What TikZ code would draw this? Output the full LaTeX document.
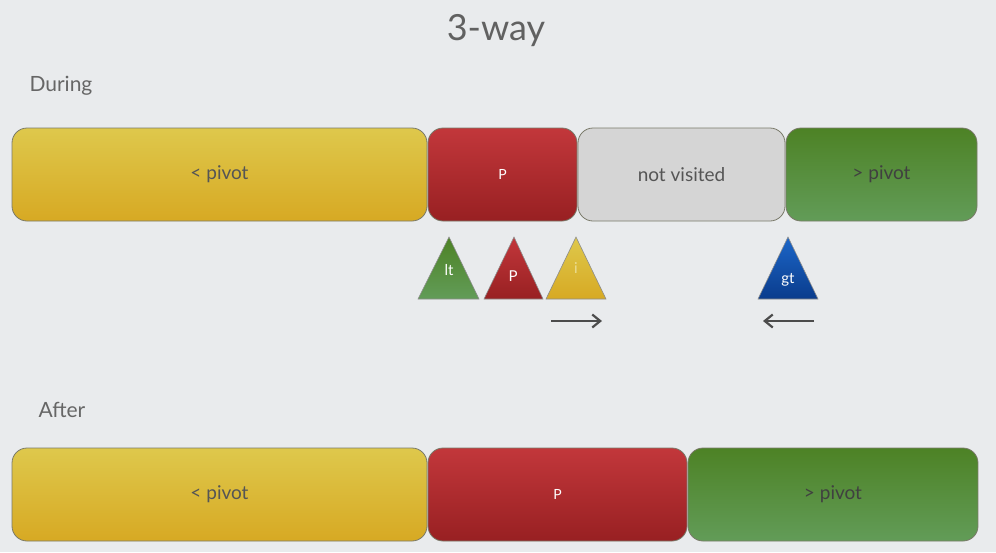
\documentclass[tikz,border=0pt]{standalone}
\usepackage{fontspec}
\setmainfont{Lato}
\usetikzlibrary{arrows.meta,shapes.geometric}
\definecolor{bg}{HTML}{E9EBED}
\definecolor{ytop}{HTML}{DEC84C}
\definecolor{ybot}{HTML}{D7A923}
\definecolor{rtop}{HTML}{C2373B}
\definecolor{rbot}{HTML}{982022}
\definecolor{gtop}{HTML}{4D8225}
\definecolor{gbot}{HTML}{629C58}
\definecolor{grey}{HTML}{D5D5D5}
\definecolor{btop}{HTML}{1C66C8}
\definecolor{bbot}{HTML}{0A3C8C}
\definecolor{edge}{HTML}{7A7A6A}
\definecolor{txt}{HTML}{555555}
\tikzset{
  bar/.style={rounded corners=15pt, draw=edge, line width=0.8pt, inner sep=0pt,
    minimum height=93pt, font=\fontsize{19}{19}\selectfont, text=txt},
  ybar/.style={bar, top color=ytop, bottom color=ybot},
  rbar/.style={bar, top color=rtop, bottom color=rbot, text=white, font=\fontsize{14}{14}\selectfont},
  gbar/.style={bar, top color=gtop, bottom color=gbot, text=txt!75!black},
  nbar/.style={bar, fill=grey},
  tri/.style={draw=black!45, line width=0.6pt},
  trilabel/.style={font=\fontsize{15}{15}\selectfont, text=white},
  mover/.style={draw=black!70, line width=2pt, -{Straight Barb[length=8pt,width=13pt,line width=2.2pt]}},
  heading/.style={font=\fontsize{21}{21}\selectfont, text=black!60, anchor=west},
}
\begin{document}
\begin{tikzpicture}[x=1pt,y=-1pt]
\useasboundingbox (0,0) rectangle (996,552);
\fill[bg] (0,0) rectangle (996,552);
\node[font=\fontsize{36}{36}\selectfont, text=black!62] (title) at (496,31) {3-way};
\node[heading] (during) at (26,86) {During};
\node[heading] (after) at (35,410) {After};
% During row
\node[ybar, minimum width=415pt] (dl) at (219.5,174.5) {< pivot};
\node[rbar, minimum width=149pt] (dp) at (502.5,174.5) {P};
\node[nbar, minimum width=207pt] (dn) at (681.5,174.5) {not visited};
\node[gbar, minimum width=191pt] (dg) at (881.5,174.5) {> pivot};
% triangles
\path[tri, top color=gtop, bottom color=gbot] (418,299) -- (449,237) -- (479,299) -- cycle;
\node[trilabel] (tlt) at (449,270) {lt};
\path[tri, top color=rtop, bottom color=rbot] (484,299) -- (514,237) -- (543,299) -- cycle;
\node[trilabel] (tp) at (513,276) {P};
\path[tri, top color=ytop, bottom color=ybot] (546,299) -- (576,237) -- (606,299) -- cycle;
\node[trilabel, text=ytop!60!white] (ti) at (576,268) {i};
\path[tri, top color=btop, bottom color=bbot] (758,299) -- (788,237) -- (818,299) -- cycle;
\node[trilabel] (tgt) at (788,280) {gt};
% arrows
\coordinate (ia) at (551,321);
\coordinate (ib) at (602,321);
\coordinate (ga) at (814,321);
\coordinate (gb) at (763,321);
\draw[mover] (ia) -- (ib);
\draw[mover] (ga) -- (gb);
% After row
\node[ybar, minimum width=415pt] (al) at (219.5,494.5) {< pivot};
\node[rbar, minimum width=259pt] (ap) at (557.5,494.5) {P};
\node[gbar, minimum width=290pt] (ag) at (833,494.5) {> pivot};
\end{tikzpicture}
\end{document}
